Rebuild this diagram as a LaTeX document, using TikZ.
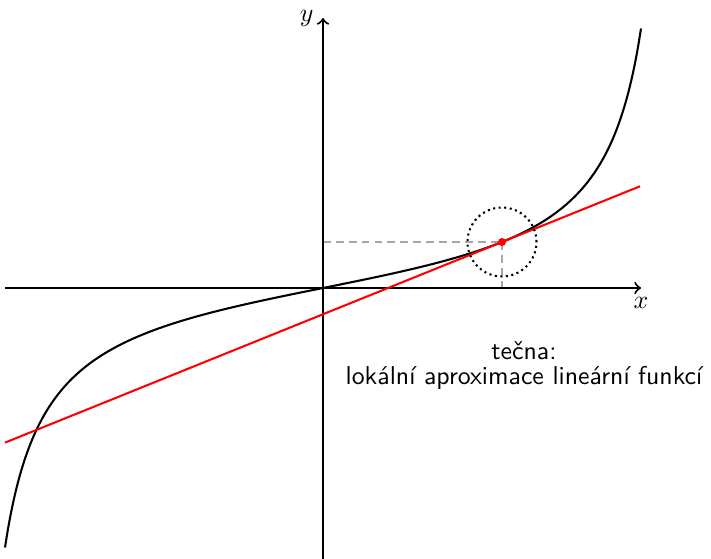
\documentclass[tikz,border=0pt]{standalone}
\usepackage{tikz}
\begin{document}
\begin{tikzpicture}[x=0.3876pt,y=0.3876pt,
  axis/.style={thick,->},
  curvestyle/.style={thick,black},
  tangentstyle/.style={thick,red},
  helper/.style={gray!70,densely dashed,semithick},
  circstyle/.style={thick,dash pattern=on 0.8pt off 1.35pt},
  labelstyle/.style={font=\sffamily\fontsize{10}{10}\selectfont,align=center}]
\useasboundingbox (-323,-271) rectangle (388,288);
% coordinates
\coordinate (O) at (0,0);
\coordinate (xl) at (-318,0);
\coordinate (xr) at (318,0);
\coordinate (yb) at (0,-271);
\coordinate (yt) at (0,270);
\coordinate (P) at (179,46);
\coordinate (Px) at (179,0);
\coordinate (Py) at (0,46);
\coordinate (tl) at (-318,-154.63);
\coordinate (tr) at (317,101.7);
% helpers
\draw[helper] (Py) -- (P);
\draw[helper] (P) -- (Px);
% axes
\draw[axis] (xl) -- (xr) node[below] (xlab) {$x$};
\draw[axis] (yb) -- (yt) node[left] (ylab) {$y$};
% curve
\draw[curvestyle] plot[domain=-318:318,samples=250,smooth] (\x,{46*tan(0.25140*\x)});
% tangent
\draw[tangentstyle] (tl) -- (tr);
% dotted circle
\draw[circstyle] (P) circle[radius=34.5];
\fill[red] (P) circle[radius=4];
% label
\node[labelstyle,anchor=base] (lab) at (201,-97) {tečna:\\lokální aproximace lineární funkcí};
\end{tikzpicture}
\end{document}
